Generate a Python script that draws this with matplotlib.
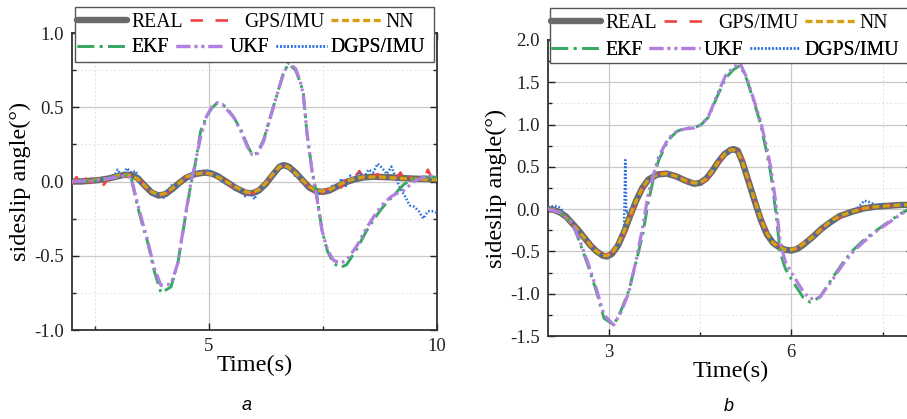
import numpy as np
import matplotlib
matplotlib.use("Agg")
import matplotlib.pyplot as plt
from matplotlib.lines import Line2D
from matplotlib.patches import Rectangle
from matplotlib.ticker import MultipleLocator

plt.rcParams['font.family'] = ['Liberation Serif', 'DejaVu Serif']
plt.rcParams['axes.unicode_minus'] = False
plt.rcParams['lines.scale_dashes'] = False

# ---------------- Panel a data ----------------
a_real_t = [2.0, 2.2, 2.4, 2.6, 2.8, 3.0, 3.15, 3.3, 3.45, 3.6, 3.75, 3.9, 4.05, 4.2, 4.35, 4.5,
            4.7, 4.9, 5.05, 5.2, 5.4, 5.6, 5.8, 5.95, 6.1, 6.25, 6.4, 6.55, 6.65, 6.75, 6.9,
            7.05, 7.2, 7.35, 7.5, 7.65, 7.8, 8.0, 8.2, 8.4, 8.6, 8.8, 9.0, 9.3, 9.6, 10.0]
a_real = [0.00, 0.00, 0.005, 0.01, 0.02, 0.035, 0.045, 0.045, 0.02, -0.03, -0.075, -0.095, -0.085,
          -0.05, -0.01, 0.025, 0.05, 0.06, 0.055, 0.035, -0.005, -0.045, -0.075, -0.08, -0.06,
          -0.015, 0.045, 0.10, 0.11, 0.10, 0.06, 0.01, -0.04, -0.065, -0.07, -0.06, -0.035,
          -0.005, 0.015, 0.028, 0.032, 0.03, 0.028, 0.022, 0.018, 0.015]
a_nn = [0.00, 0.005, 0.005, 0.015, 0.02, 0.04, 0.045, 0.04, 0.015, -0.03, -0.07, -0.09, -0.08,
        -0.045, -0.01, 0.03, 0.05, 0.06, 0.05, 0.03, -0.005, -0.04, -0.07, -0.075, -0.055,
        -0.01, 0.05, 0.10, 0.11, 0.095, 0.055, 0.01, -0.035, -0.06, -0.065, -0.055, -0.03,
        0.0, 0.02, 0.03, 0.03, 0.03, 0.025, 0.02, 0.015, 0.012]

a_noisy_t = [2.0, 2.1, 2.2, 2.3, 2.4, 2.5, 2.6, 2.7, 2.8, 2.9, 3.0, 3.1, 3.2, 3.3, 3.4, 3.5, 3.6,
             3.7, 3.8, 3.9, 4.0, 4.1, 4.2, 4.3, 4.4, 4.5, 4.6, 4.7, 4.8, 4.9, 5.0, 5.1, 5.2, 5.3,
             5.4, 5.5, 5.6, 5.7, 5.8, 5.9, 6.0, 6.1, 6.2, 6.3, 6.4, 6.5, 6.6, 6.7, 6.8, 6.9, 7.0,
             7.1, 7.2, 7.3, 7.4, 7.5, 7.6, 7.7, 7.8, 7.9, 8.0, 8.1, 8.2, 8.3, 8.4, 8.5, 8.6, 8.7,
             8.8, 8.9, 9.0, 9.1, 9.2, 9.3, 9.4, 9.5, 9.6, 9.7, 9.8, 9.9, 10.0]
a_gps = [-0.02, 0.03, -0.03, 0.02, -0.01, 0.01, -0.03, -0.02, 0.02, 0.02, 0.04, 0.06, 0.03, 0.06,
         0.03, 0.01, -0.03, -0.06, -0.09, -0.10, -0.09, -0.07, -0.04, -0.02, 0.0, 0.03, 0.04,
         0.05, 0.07, 0.06, 0.05, 0.05, 0.03, 0.01, 0.0, -0.03, -0.05, -0.06, -0.09, -0.08, -0.08,
         -0.05, -0.03, 0.01, 0.04, 0.08, 0.11, 0.10, 0.09, 0.06, 0.02, -0.01, -0.04, -0.06,
         -0.04, -0.08, -0.05, -0.06, -0.02, -0.04, 0.01, 0.0, 0.03, 0.07, 0.02, 0.04, 0.03,
         0.05, 0.02, 0.04, 0.03, 0.02, 0.06, 0.0, 0.03, 0.01, 0.02, 0.0, 0.08, 0.01, 0.03]
a_dgps = [0.01, 0.0, 0.02, 0.0, 0.01, 0.0, 0.02, 0.01, 0.03, 0.02, 0.08, 0.03, 0.09, 0.06, 0.07,
          -0.01, -0.04, -0.05, -0.10, -0.08, -0.11, -0.06, -0.02, -0.04, 0.02, 0.01, 0.05, 0.04,
          0.07, 0.05, 0.08, 0.04, 0.05, 0.0, -0.02, -0.01, -0.06, -0.05, -0.10, -0.07, -0.12,
          -0.05, -0.04, 0.02, 0.04, 0.08, 0.12, 0.09, 0.10, 0.03, 0.04, -0.02, -0.05, -0.03,
          -0.09, -0.05, -0.08, -0.03, -0.05, 0.02, -0.03, 0.04, 0.01, 0.06, 0.03, 0.08, 0.06,
          0.12, 0.09, 0.05, 0.10, 0.02, -0.05, -0.10, -0.16, -0.17, -0.20, -0.25, -0.20, -0.20,
          -0.21]

a_kf_t = [2.0, 2.5, 3.0, 3.2, 3.3, 3.44, 3.55, 3.66, 3.8, 3.95, 4.17, 4.32, 4.5, 4.61, 4.67, 4.82,
          4.95, 5.08, 5.19, 5.3, 5.41, 5.55, 5.7, 5.85, 5.95, 6.05, 6.2, 6.33, 6.46, 6.64, 6.75,
          6.9, 7.0, 7.07, 7.15, 7.26, 7.35, 7.48, 7.6, 7.73, 7.88, 8.02, 8.25, 8.46, 8.65, 8.82,
          9.0, 9.12, 9.27, 9.5, 9.7, 10.0]
a_ekf = [0.0, 0.005, 0.03, 0.04, 0.02, -0.17, -0.30, -0.41, -0.60, -0.75, -0.71, -0.55, -0.21,
         -0.01, 0.06, 0.34, 0.44, 0.50, 0.53, 0.52, 0.49, 0.43, 0.35, 0.24, 0.18, 0.19, 0.28,
         0.42, 0.55, 0.74, 0.79, 0.75, 0.67, 0.60, 0.32, 0.08, -0.06, -0.33, -0.47, -0.55, -0.58,
         -0.56, -0.45, -0.33, -0.24, -0.17, -0.11, -0.07, -0.02, 0.02, 0.03, 0.03]
a_ukf = [0.0, 0.005, 0.03, 0.04, 0.02, -0.15, -0.28, -0.40, -0.58, -0.70, -0.69, -0.55, -0.20,
         0.0, 0.08, 0.30, 0.44, 0.51, 0.53, 0.52, 0.48, 0.43, 0.34, 0.23, 0.18, 0.18, 0.27,
         0.41, 0.55, 0.73, 0.80, 0.76, 0.68, 0.58, 0.33, 0.07, -0.08, -0.33, -0.46, -0.53, -0.55,
         -0.53, -0.43, -0.31, -0.22, -0.15, -0.10, -0.08, -0.06, 0.0, 0.03, 0.04]

# ---------------- Panel b data ----------------
b_real_t = [2.0, 2.1, 2.2, 2.3, 2.4, 2.5, 2.6, 2.7, 2.8, 2.9, 2.97, 3.05, 3.15, 3.25, 3.35, 3.45,
            3.55, 3.65, 3.8, 3.95, 4.1, 4.25, 4.4, 4.5, 4.6, 4.7, 4.8, 4.9, 5.0, 5.05, 5.12, 5.2,
            5.3, 5.4, 5.5, 5.6, 5.7, 5.8, 5.9, 6.0, 6.1, 6.2, 6.35, 6.5, 6.65, 6.8, 7.0, 7.2, 7.4,
            7.6, 7.8, 8.0]
b_real = [0.0, -0.01, -0.04, -0.09, -0.17, -0.25, -0.34, -0.43, -0.50, -0.55, -0.56, -0.53, -0.43,
          -0.27, -0.08, 0.10, 0.25, 0.35, 0.41, 0.42, 0.39, 0.34, 0.30, 0.31, 0.36, 0.45, 0.56,
          0.65, 0.70, 0.71, 0.69, 0.55, 0.32, 0.09, -0.13, -0.30, -0.40, -0.45, -0.48, -0.49,
          -0.47, -0.42, -0.33, -0.23, -0.15, -0.08, -0.03, 0.01, 0.03, 0.04, 0.05, 0.05]
b_nn = [0.0, -0.01, -0.04, -0.10, -0.17, -0.26, -0.34, -0.43, -0.50, -0.55, -0.55, -0.52, -0.42,
        -0.26, -0.07, 0.10, 0.25, 0.35, 0.41, 0.42, 0.39, 0.34, 0.31, 0.31, 0.36, 0.45, 0.56,
        0.65, 0.70, 0.70, 0.68, 0.55, 0.32, 0.10, -0.12, -0.29, -0.40, -0.45, -0.48, -0.48,
        -0.46, -0.41, -0.33, -0.23, -0.14, -0.08, -0.03, 0.01, 0.03, 0.04, 0.05, 0.05]

b_noisy_t = [2.0, 2.1, 2.2, 2.3, 2.4, 2.5, 2.6, 2.7, 2.8, 2.9, 3.0, 3.1, 3.2, 3.25, 3.27, 3.29,
             3.35, 3.4, 3.5, 3.6, 3.7, 3.8, 3.9, 4.0, 4.1, 4.2, 4.3, 4.4, 4.5, 4.6, 4.7, 4.8, 4.9,
             5.0, 5.1, 5.2, 5.3, 5.4, 5.5, 5.6, 5.7, 5.8, 5.9, 6.0, 6.1, 6.2, 6.3, 6.4, 6.5, 6.6,
             6.7, 6.8, 6.9, 7.0, 7.1, 7.2, 7.3, 7.4, 7.5, 7.6, 7.7, 7.8, 7.9, 8.0]
b_gps = [0.0, -0.01, -0.05, -0.08, -0.18, -0.24, -0.35, -0.42, -0.51, -0.54, -0.53, -0.50,
         -0.36, -0.30, -0.24, -0.20, -0.10, -0.02, 0.16, 0.30, 0.38, 0.41, 0.43, 0.41, 0.40,
         0.36, 0.31, 0.27, 0.31, 0.34, 0.44, 0.54, 0.64, 0.68, 0.70, 0.58, 0.33, 0.10, -0.14,
         -0.29, -0.39, -0.44, -0.49, -0.48, -0.46, -0.40, -0.35, -0.30, -0.23, -0.20, -0.13,
         -0.10, -0.05, -0.04, 0.0, 0.01, 0.02, 0.03, 0.03, 0.05, 0.04, 0.05, 0.04, 0.05]
b_dgps = [0.02, 0.04, 0.02, -0.10, -0.15, -0.26, -0.33, -0.44, -0.49, -0.56, -0.54, -0.49,
          -0.38, -0.22, 0.58, -0.05, -0.02, 0.02, 0.17, 0.31, 0.36, 0.40, 0.42, 0.40, 0.38,
          0.35, 0.30, 0.30, 0.30, 0.37, 0.43, 0.57, 0.65, 0.70, 0.68, 0.56, 0.31, 0.08, -0.15,
          -0.30, -0.38, -0.46, -0.47, -0.49, -0.46, -0.41, -0.37, -0.30, -0.24, -0.19, -0.14,
          -0.08, -0.06, -0.02, 0.02, 0.10, 0.08, 0.04, 0.06, 0.04, 0.06, 0.05, 0.05, 0.05]

b_kf_t = [2.0, 2.2, 2.4, 2.51, 2.65, 2.79, 2.92, 3.08, 3.2, 3.33, 3.45, 3.56, 3.64, 3.73, 3.82,
          3.98, 4.12, 4.26, 4.4, 4.52, 4.64, 4.78, 4.92, 5.05, 5.16, 5.27, 5.38, 5.49, 5.58, 5.66,
          5.74, 5.82, 5.9, 6.01, 6.2, 6.31, 6.47, 6.69, 6.85, 7.02, 7.2, 7.4, 7.6, 7.8, 8.0]
b_ekf = [0.0, -0.04, -0.17, -0.37, -0.65, -0.96, -1.29, -1.37, -1.20, -0.96, -0.62, -0.29, 0.05,
         0.35, 0.58, 0.82, 0.92, 0.96, 0.96, 1.00, 1.09, 1.33, 1.55, 1.65, 1.70, 1.53, 1.28,
         1.02, 0.72, 0.43, -0.01, -0.52, -0.70, -0.84, -1.05, -1.10, -1.04, -0.80, -0.63, -0.48,
         -0.36, -0.25, -0.15, -0.05, 0.02]
b_ukf = [0.0, -0.04, -0.16, -0.35, -0.62, -0.93, -1.25, -1.37, -1.22, -0.98, -0.60, -0.20, 0.15,
         0.40, 0.62, 0.84, 0.92, 0.95, 0.96, 1.00, 1.10, 1.35, 1.58, 1.68, 1.72, 1.55, 1.30,
         1.05, 0.78, 0.50, 0.10, -0.40, -0.62, -0.76, -0.98, -1.06, -1.04, -0.82, -0.65, -0.50,
         -0.38, -0.26, -0.16, -0.06, 0.02]

x_major = [5, 3]
y_major = [0.5, 0.5]

# ---------------- styles ----------------
C_REAL = '#6a6a6a'
C_GPS = '#f04444'
C_NN = '#d6a012'
C_EKF = '#39a862'
C_UKF = '#b27ee0'
C_DGPS = '#2a70e0'

styles = {
    'REAL': dict(color=C_REAL, lw=4.6, solid_capstyle='round', solid_joinstyle='round'),
    'GPS/IMU': dict(color=C_GPS, lw=1.9, dashes=(9.0, 9.0)),
    'NN': dict(color=C_NN, lw=2.4, dashes=(5.0, 2.6)),
    'EKF': dict(color=C_EKF, lw=2.1, dashes=(12.0, 4.0, 2.0, 4.0)),
    'UKF': dict(color=C_UKF, lw=2.3, dashes=(10.0, 3.0, 2.0, 3.0, 2.0, 3.0)),
    'DGPS/IMU': dict(color=C_DGPS, lw=1.8, dashes=(1.2, 1.4)),
}

W, H = 907, 419
fig = plt.figure(figsize=(W / 100, H / 100), dpi=100)

def px_axes(left, top, right, bottom):
    return fig.add_axes([left / W, 1 - bottom / H, (right - left) / W, (bottom - top) / H])

axA = px_axes(72, 33, 437, 330)
axB = px_axes(548, 40, 913, 336)

panels = [
    (axA, (2, 10), (-1.0, 1.0), a_real_t, a_real, a_nn, a_noisy_t, a_gps, a_dgps, a_kf_t, a_ekf, a_ukf),
    (axB, (2, 8), (-1.5, 2.0), b_real_t, b_real, b_nn, b_noisy_t, b_gps, b_dgps, b_kf_t, b_ekf, b_ukf),
]

tick_font = dict(family=['Liberation Serif'], size=13.5)
for i, (ax, xl, yl, rt, rv, nv, nt, gv, dv, kt, ev, uv) in enumerate(panels):
    ax.plot(rt, rv, zorder=2, **styles['REAL'])
    ax.plot(nt, gv, zorder=3, **styles['GPS/IMU'])
    ax.plot(nt, dv, zorder=3.2, **styles['DGPS/IMU'])
    ax.plot(rt, nv, zorder=3.5, **styles['NN'])
    ax.plot(kt, ev, zorder=4, **styles['EKF'])
    ax.plot(kt, uv, zorder=4.2, **styles['UKF'])
    ax.set_xlim(*xl)
    ax.set_ylim(*yl)
    ax.xaxis.set_major_locator(MultipleLocator(x_major[i]))
    ax.xaxis.set_minor_locator(MultipleLocator(x_major[i] / 2))
    ax.yaxis.set_major_locator(MultipleLocator(y_major[i]))
    ax.yaxis.set_minor_locator(MultipleLocator(y_major[i] / 2))
    ax.yaxis.set_major_formatter(matplotlib.ticker.FormatStrFormatter('%.1f'))
    ax.grid(True, which='major', color='#c9c9c9', lw=0.9)
    ax.grid(True, which='minor', color='#e4e4e4', lw=0.7, ls=(0, (1.5, 1.5)))
    ax.set_axisbelow(True)
    ax.tick_params(which='both', direction='in', top=True, right=True, colors='#222222',
                   labelsize=13.5, width=1.0)
    ax.tick_params(which='major', length=5, pad=6)
    ax.tick_params(which='minor', length=3)
    for s in ax.spines.values():
        s.set_color('#333333')
        s.set_linewidth(1.3)
    ax.set_xlabel('Time(s)', fontsize=17.5, labelpad=0)
    ax.set_ylabel('sideslip angle(°)', fontsize=17.5, labelpad=2)

# ---------------- legends ----------------
def make_handle(name):
    st = dict(styles[name])
    return Line2D([], [], **st)

def add_legend(ax, frame, row1_xy, row2_xy):
    fx, fy, fw, fh = frame
    ax.add_patch(Rectangle((fx, fy), fw, fh, transform=ax.transAxes, facecolor='white',
                           edgecolor='#555555', lw=1.0, clip_on=False, zorder=10))
    rows = [(['REAL', 'GPS/IMU', 'NN'], row1_xy), (['EKF', 'UKF', 'DGPS/IMU'], row2_xy)]
    for names, xy in rows:
        leg = ax.legend([make_handle(n) for n in names], names, ncol=3, loc='center left',
                        bbox_to_anchor=xy, bbox_transform=ax.transAxes, frameon=False,
                        borderpad=0, borderaxespad=0, handlelength=2.55, handletextpad=0.2,
                        columnspacing=0.35, prop=dict(family=['Liberation Serif'], size=14.2))
        leg.set_zorder(11)
        ax.add_artist(leg)

add_legend(axA, (0.0082, 0.9024, 0.9836, 0.185), (0.0137, 1.037), (0.0137, 0.9495))
add_legend(axB, (0.0055, 0.922, 0.9836, 0.186), (0.008, 1.057), (0.008, 0.966))

fig.text(247 / W, 1 - 405 / H, 'a', ha='center', va='center', fontstyle='italic',
         family=['Liberation Sans'], fontsize=13)
fig.text(729 / W, 1 - 406 / H, 'b', ha='center', va='center', fontstyle='italic',
         family=['Liberation Sans'], fontsize=13)

fig.savefig('out.png', dpi=100)
